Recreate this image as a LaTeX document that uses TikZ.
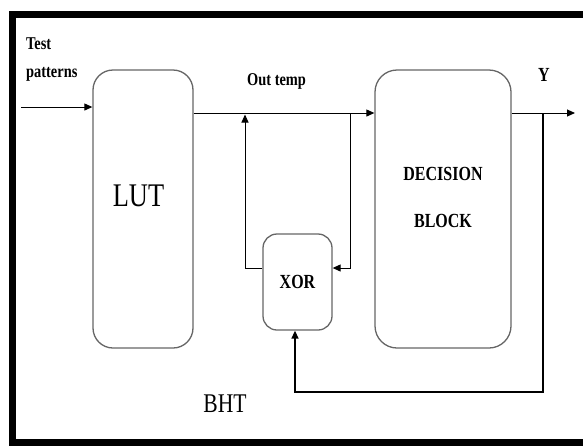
\documentclass[tikz,border=0pt]{standalone}
\usepackage{fontspec}
\setmainfont[FakeStretch=0.8]{Liberation Serif}
\usepackage{tikz}
\usetikzlibrary{arrows.meta,positioning,calc}

\begin{document}
\begin{tikzpicture}[
    x=1pt, y=-1pt,
    blk/.style={rectangle, draw=black!60, line width=1.3pt, rounded corners=20pt, inner sep=0pt},
    lbl/.style={font=\bfseries\fontsize{18}{28}\selectfont, inner sep=0pt, align=left},
    arrow/.style={-{Triangle[length=8pt,width=7pt]}, line width=1pt, draw=black}
]
    \useasboundingbox (0,0) rectangle (583,445);
    % frame
    \draw [line width=7pt] (590,14.5) -- (12.5,14.5) -- (12.5,442.5) -- (590,442.5);

    % blocks
    \node [blk, minimum width=100pt, minimum height=278pt] (lut) at (143,209) {};
    \node [blk, minimum width=136pt, minimum height=278pt, rounded corners=22pt] (dec) at (443,209) {};
    \node [blk, minimum width=69pt, minimum height=96pt, rounded corners=14pt,
           font=\bfseries\fontsize{20}{24}\selectfont] (xor) at (297.5,282) {\raisebox{-4pt}{XOR}};
    \node [font=\fontsize{33}{36}\selectfont] (lutlbl) at ([xshift=-4.5pt,yshift=13pt]lut.center) {LUT};
    \node [font=\bfseries\fontsize{20}{47}\selectfont, align=center] (declbl) at ([yshift=12pt]dec.center) {DECISION\\BLOCK};

    % labels
    \node [lbl, anchor=north west] (tp) at (26,38) {Test\\patterns};
    \node [lbl, anchor=north west] (ot) at (247,73) {Out temp};
    \node [font=\bfseries\fontsize{20}{24}\selectfont] (y) at (544,75) {Y};
    \node [font=\fontsize{27}{30}\selectfont] (bht) at (225,404) {BHT};

    % junctions
    \coordinate (in) at (21,107);
    \coordinate (j1) at (245,113);
    \coordinate (j2) at (350,113);
    \coordinate (j3) at (543,113);
    \coordinate (out) at (575,113);
    \coordinate (fb) at (543,392);

    % connectors
    \draw [arrow] (in) -- (lut.west |- in);
    \draw [arrow] (lut.east |- j1) -- (dec.west |- j1);
    \draw [arrow] ([yshift=14pt]xor.west) -| ([yshift=-1.5pt]j1);
    \draw [arrow] (j2) |- ([yshift=14pt]xor.east);
    \draw [arrow] (dec.east |- j3) -- (out);
    \draw [arrow, line width=1.4pt] (j3) -- (fb) -| ([xshift=-2.5pt]xor.south);
\end{tikzpicture}
\end{document}
